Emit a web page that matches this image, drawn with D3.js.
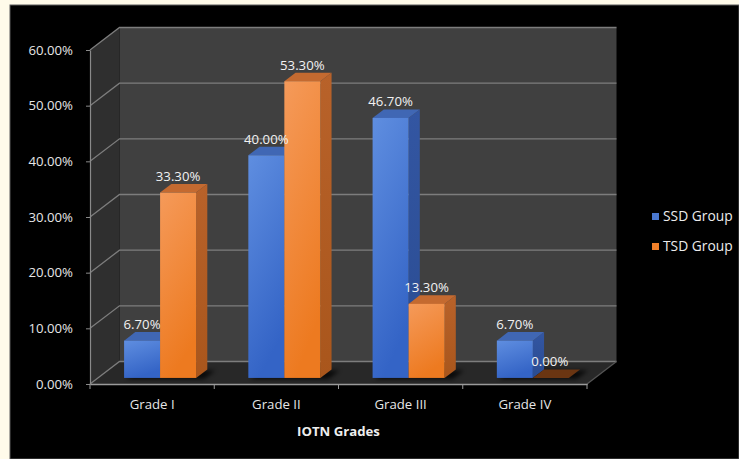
<!DOCTYPE html>
<html>
<head>
<meta charset="utf-8">
<script src="https://cdn.jsdelivr.net/npm/d3@7"></script>
<style>
  html, body { margin: 0; padding: 0; background: #fffbea; }
  svg { display: block; }
  text { font-family: "Open Sans", "DejaVu Sans", sans-serif; }
</style>
</head>
<body>
<svg id="chart" width="739" height="459"></svg>
<script>
// IOTN grade distribution for the two study groups
const categories = ["Grade I", "Grade II", "Grade III", "Grade IV"];
const seriesNames = ["SSD Group", "TSD Group"];
const ssdValues = [6.7, 40.0, 46.7, 6.7];
const tsdValues = [33.3, 53.3, 13.3, 0.0];
const yTicks = [0, 10, 20, 30, 40, 50, 60];
const xTitle = "IOTN Grades";

(function () {
const svg = d3.select("#chart");
const W = 739, H = 459;
const FS = 13.2;

// dark frame
svg.append("rect").attr("x", 10).attr("y", 5).attr("width", W - 10).attr("height", H - 5)
  .attr("fill", "#000").attr("stroke", "#5a5a5a").attr("stroke-width", 1);

// front plane of the 3D plot
const plotL = 90, plotR = 587, base = 384, plotT = 50;
// depth vector from front to back wall
const DX = 29.5, DY = -22.5;

const x = d3.scaleBand().domain(categories).range([plotL, plotR]);
const y = d3.scaleLinear().domain([0, 60]).range([base, plotT]);

const defs = svg.append("defs");
function grad(id, c1, c2, x2, y2) {
  const g = defs.append("linearGradient").attr("id", id)
    .attr("x1", 0).attr("y1", 0).attr("x2", x2).attr("y2", y2);
  g.append("stop").attr("offset", "0%").attr("stop-color", c1);
  g.append("stop").attr("offset", "100%").attr("stop-color", c2);
}
grad("blueFront", "#5f8ee0", "#3464c6", 0.3, 1);
grad("orangeFront", "#f59a5a", "#ed7a20", 0.3, 1);
grad("blueSide", "#3356a2", "#2a4c92", 0, 1);
grad("orangeSide", "#b8622a", "#a9561c", 0, 1);
defs.append("filter").attr("id", "shadowBlur").attr("x", "-20%").attr("y", "-50%")
  .attr("width", "140%").attr("height", "200%")
  .append("feGaussianBlur").attr("stdDeviation", 2.2);

const poly = pts => "M" + pts.map(p => p.join(",")).join("L") + "Z";

// walls and floor
const g3d = svg.append("g");
g3d.append("path")
  .attr("d", poly([[plotL + DX, y(60) + DY], [plotR + DX, y(60) + DY], [plotR + DX, base + DY], [plotL + DX, base + DY]]))
  .attr("fill", "#404040");
g3d.append("path")
  .attr("d", poly([[plotL, y(60)], [plotL + DX, y(60) + DY], [plotL + DX, base + DY], [plotL, base]]))
  .attr("fill", "#2f2f2f");
g3d.append("path")
  .attr("d", poly([[plotL, base], [plotL + DX, base + DY], [plotR + DX, base + DY], [plotR, base]]))
  .attr("fill", "#282828");

// gridlines on back and side walls
const grid = g3d.append("g").attr("stroke", "#7d7d7d").attr("stroke-width", 1.3).attr("fill", "none");
yTicks.forEach(v => {
  grid.append("path").attr("d", `M${plotL},${y(v)}L${plotL + DX},${y(v) + DY}L${plotR + DX},${y(v) + DY}`);
});
// right edge of floor
grid.append("path").attr("d", `M${plotR},${base}L${plotR + DX},${base + DY}`).attr("stroke", "#555");

// bars, placed part-way into the depth
const d1 = 0.27, d2 = 0.65;
const groupW = 72;
const barW = groupW / 2;
const ox1 = DX * d1, oy1 = DY * d1;
const bx = DX * (d2 - d1), by = DY * (d2 - d1);

const bars = svg.append("g");
const series = [
  { name: seriesNames[0], values: ssdValues, front: "url(#blueFront)", side: "url(#blueSide)", topC: "#4067b4", flat: "#2d4f96" },
  { name: seriesNames[1], values: tsdValues, front: "url(#orangeFront)", side: "url(#orangeSide)", topC: "#c46a30", flat: "#6a3512" }
];

categories.forEach((cat, i) => {
  const gx = x(cat) + x.bandwidth() / 2 - groupW / 2 + ox1;
  const gy0 = base + oy1;
  // soft shadow on the floor
  bars.append("path")
    .attr("d", poly([[gx + 2, gy0 + 1], [gx + groupW + 8, gy0 + 1], [gx + groupW + bx + 8, gy0 + by + 1], [gx + bx + 2, gy0 + by + 1]]))
    .attr("fill", "#050505").attr("opacity", 0.75).attr("filter", "url(#shadowBlur)");
  series.forEach((s, k) => {
    const v = s.values[i];
    const x0 = gx + k * barW, x1 = x0 + barW;
    const yt = y(v) + oy1;
    if (v === 0) {
      bars.append("path")
        .attr("d", poly([[x0, gy0], [x1, gy0], [x1 + bx, gy0 + by], [x0 + bx, gy0 + by]]))
        .attr("fill", s.flat);
      return;
    }
    bars.append("path")
      .attr("d", poly([[x1, yt], [x1 + bx, yt + by], [x1 + bx, gy0 + by], [x1, gy0]]))
      .attr("fill", s.side);
    bars.append("path")
      .attr("d", poly([[x0, yt], [x0 + bx, yt + by], [x1 + bx, yt + by], [x1, yt]]))
      .attr("fill", s.topC);
    bars.append("rect").attr("x", x0).attr("y", yt).attr("width", barW).attr("height", gy0 - yt)
      .attr("fill", s.front);
  });
  series.forEach((s, k) => {
    const v = s.values[i];
    const x0 = gx + k * barW;
    bars.append("text")
      .attr("x", x0 + barW / 2 + (v === 0 ? -1 : 0))
      .attr("y", y(v) + oy1 + by - 3)
      .attr("text-anchor", "middle")
      .attr("font-size", FS)
      .attr("fill", "#f2f2f2")
      .text(v.toFixed(2) + "%");
  });
});

// value axis
const yAxis = svg.append("g").attr("transform", `translate(${plotL},0)`)
  .call(d3.axisLeft(y).tickValues(yTicks).tickSizeInner(4).tickSizeOuter(0).tickPadding(13)
    .tickFormat(d => d.toFixed(2) + "%"));
yAxis.select(".domain").attr("stroke", "#8a8a8a").attr("stroke-width", 1.2);
yAxis.selectAll(".tick line").attr("stroke", "#8a8a8a");
yAxis.selectAll(".tick text").attr("fill", "#e6e6e6").attr("font-size", FS)
  .attr("font-family", "'Open Sans', sans-serif");

// category axis
const xAxis = svg.append("g").attr("transform", `translate(0,${base})`)
  .call(d3.axisBottom(x).tickSize(0).tickPadding(16));
xAxis.select(".domain").attr("stroke", "#9a9a9a").attr("stroke-width", 1.3);
xAxis.selectAll(".tick text").attr("fill", "#e6e6e6").attr("font-size", FS)
  .attr("font-family", "'Open Sans', sans-serif");
// boundary ticks between categories
const bounds = categories.map(c => x(c)).concat([x(categories[categories.length - 1]) + x.bandwidth()]);
xAxis.selectAll(".bound").data(bounds).enter().append("line")
  .attr("x1", d => d).attr("x2", d => d).attr("y1", 0).attr("y2", 5)
  .attr("stroke", "#9a9a9a");

svg.append("text")
  .attr("x", (plotL + plotR) / 2).attr("y", 436)
  .attr("text-anchor", "middle").attr("font-size", FS).attr("font-weight", "bold")
  .attr("fill", "#eeeeee").text(xTitle);

// legend
const legend = svg.append("g").attr("transform", "translate(652,213)");
series.forEach((s, k) => {
  const row = legend.append("g").attr("transform", `translate(0,${k * 30})`);
  row.append("rect").attr("width", 7).attr("height", 7)
    .attr("fill", k === 0 ? "#4a78d0" : "#f0802a");
  row.append("text").attr("x", 11).attr("y", 8).attr("font-size", 13.8)
    .attr("fill", "#ececec").text(s.name);
});
})();
</script>
</body>
</html>
